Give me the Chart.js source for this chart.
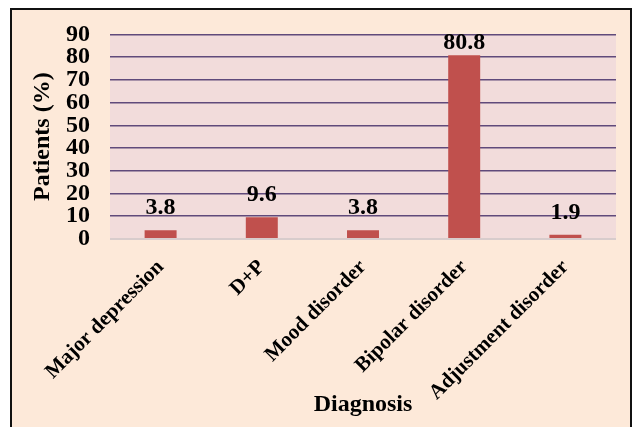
<!DOCTYPE html>
<html>
<head>
<meta charset="utf-8">
<script src="https://cdn.jsdelivr.net/npm/chart.js@4/dist/chart.umd.min.js"></script>
<style>
  html, body { margin: 0; padding: 0; background: #ffffff; }
  #wrap { width: 633px; height: 427px; }
</style>
</head>
<body>
<div id="wrap"><canvas id="c" width="633" height="427"></canvas></div>
<script>
// Diagnoses and share of patients (%)
const categories = ['Major depression', 'D+P', 'Mood disorder', 'Bipolar disorder', 'Adjustment disorder'];
const patientsPct = [3.8, 9.6, 3.8, 80.8, 1.9];
const yTicks = [0, 10, 20, 30, 40, 50, 60, 70, 80, 90];

const SERIF = "'Liberation Serif', 'Times New Roman', serif";

// Outer frame, plot-area fill and value labels
const framePlugin = {
  id: 'frame',
  beforeDraw(chart) {
    const { ctx, chartArea: a } = chart;
    ctx.save();
    ctx.fillStyle = '#ffffff';
    ctx.fillRect(0, 0, chart.width, chart.height);
    ctx.fillStyle = '#FDE9D9';
    ctx.fillRect(11, 9, 620, 430);
    ctx.strokeStyle = '#111111';
    ctx.lineWidth = 2;
    ctx.strokeRect(11, 9, 620, 430);
    ctx.fillStyle = '#F2DCDB';
    ctx.fillRect(a.left, a.top, a.right - a.left, a.bottom - a.top + 1);
    ctx.restore();
  },
  afterDatasetsDraw(chart) {
    const { ctx, chartArea: a } = chart;
    const meta = chart.getDatasetMeta(0);
    ctx.save();
    ctx.font = "bold 24px " + SERIF;
    ctx.fillStyle = '#000000';
    ctx.textAlign = 'center';
    ctx.textBaseline = 'alphabetic';
    meta.data.forEach((bar, i) => {
      const v = chart.data.datasets[0].data[i];
      const y = Math.max(bar.y - 16, a.top + 15);
      ctx.fillText(v.toFixed(1), bar.x, y);
    });
    ctx.restore();
  }
};

new Chart(document.getElementById('c'), {
  type: 'bar',
  data: {
    labels: categories,
    datasets: [{
      data: patientsPct,
      backgroundColor: '#C0504D',
      borderWidth: 0,
      barPercentage: 0.316,
      categoryPercentage: 1.0
    }]
  },
  options: {
    responsive: false,
    animation: false,
    devicePixelRatio: 1,
    layout: { padding: { left: 24, top: 33, right: 17, bottom: 4 } },
    plugins: {
      legend: { display: false },
      tooltip: { enabled: false }
    },
    scales: {
      x: {
        grid: { display: false, drawTicks: false },
        border: { display: false },
        ticks: {
          color: '#000000',
          font: { family: SERIF, size: 21, weight: 'bold' },
          minRotation: 45,
          maxRotation: 45,
          autoSkip: false,
          padding: 16
        },
        title: {
          display: true,
          text: 'Diagnosis',
          color: '#000000',
          font: { family: SERIF, size: 24, weight: 'bold' },
          padding: { top: 4, bottom: 4 }
        },
        afterFit(scale) { scale.height = 184; }
      },
      y: {
        min: 0,
        max: 90,
        afterBuildTicks(scale) { scale.ticks = yTicks.map(v => ({ value: v })); },
        grid: {
          drawTicks: false,
          color: ctx => (ctx.tick && ctx.tick.value === 0) ? '#D8CCCC' : '#604A7B',
          lineWidth: ctx => (ctx.tick && ctx.tick.value === 0) ? 2 : 1.6
        },
        border: { display: false },
        ticks: {
          color: '#000000',
          font: { family: SERIF, size: 24, weight: 'bold' },
          autoSkip: false,
          padding: 20
        },
        title: {
          display: true,
          text: 'Patients (%)',
          color: '#000000',
          font: { family: SERIF, size: 24, weight: 'bold' },
          padding: { top: 4, bottom: 4 }
        },
        afterFit(scale) { scale.width = 86; }
      }
    }
  },
  plugins: [framePlugin]
});
</script>
</body>
</html>
